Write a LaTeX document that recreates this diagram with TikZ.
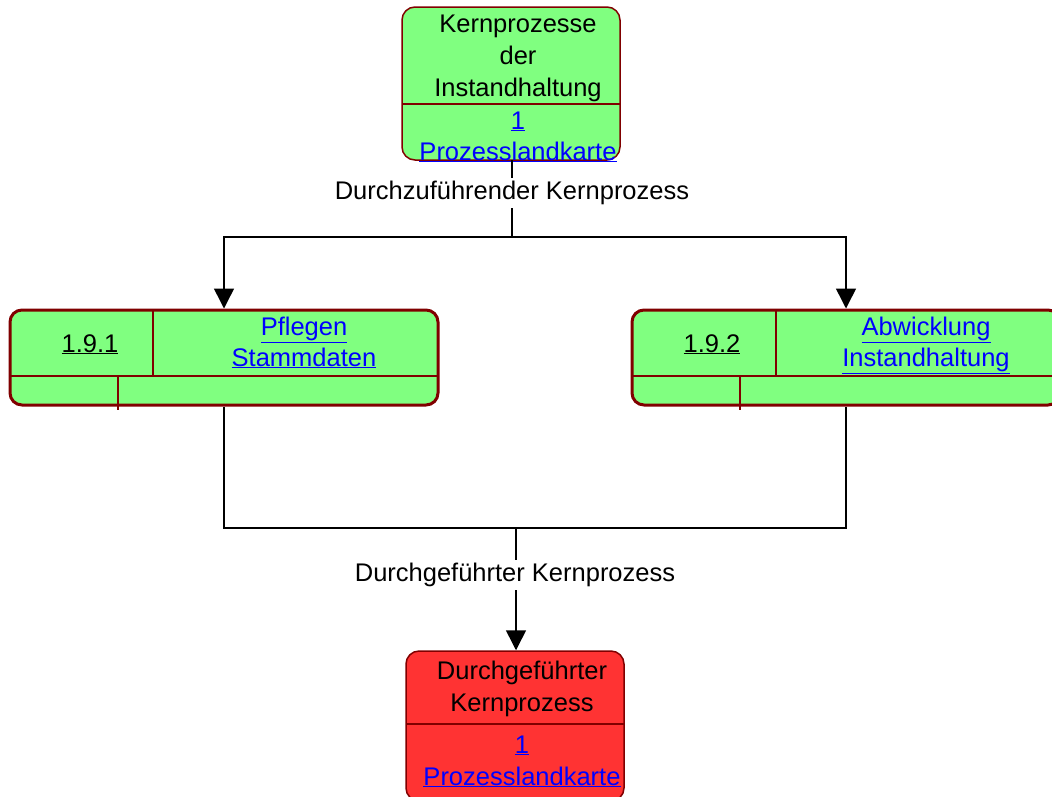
\documentclass[tikz,border=0pt]{standalone}
\usepackage{fontspec}
\setmainfont{Liberation Sans}
\usetikzlibrary{arrows.meta}
\definecolor{boxgreen}{HTML}{80FF80}
\definecolor{boxred}{HTML}{FF3333}
\definecolor{darkline}{HTML}{800000}
\definecolor{linkblue}{HTML}{0000FF}
\begin{document}
\begin{tikzpicture}[x=1pt,y=-1pt,
  every node/.style={font=\fontsize{25.5}{31}\selectfont},
  procbox/.style={draw=darkline, line width=1.5pt, rounded corners=13pt, inner sep=0pt},
  funcbox/.style={draw=darkline, line width=3pt, fill=boxgreen, rounded corners=12pt, inner sep=0pt, minimum width=428pt, minimum height=95pt},
  divline/.style={draw=darkline, line width=1.5pt},
  txt/.style={anchor=base, inner sep=0pt, text=black},
  lnk/.style={anchor=base, inner sep=0pt, text=linkblue},
  conn/.style={draw=black, line width=1.5pt},
  arr/.style={conn, -{Triangle[width=20pt,length=20pt]}},
  lbl/.style={fill=white, inner sep=3pt, text=black}]
\useasboundingbox (0,0) rectangle (1052,796);

% top process box
\node[procbox, fill=boxgreen, minimum width=218pt, minimum height=153pt] (top) at (511,83.5) {};
\draw[divline] (402,104) -- (620,104);
\node[txt] (t1) at (518,32) {Kernprozesse};
\node[txt] (t2) at (518,64) {der};
\node[txt] (t3) at (518,96) {Instandhaltung};
\node[lnk] (t4) at (518,129) {\underline{1}};
\node[lnk] (t5) at (518,160) {\underline{Prozesslandkarte}};

% left function box
\node[funcbox] (f1) at (224,357.5) {};
\draw[divline] (153,310) -- (153,376);
\draw[divline] (10,376) -- (438,376);
\draw[divline] (118,376) -- (118,410);
\node[txt] (f1n) at (90,352) {\underline{1.9.1}};
\node[lnk] (f1a) at (304,335) {\underline{Pflegen}};
\node[lnk] (f1b) at (304,366) {\underline{Stammdaten}};

% right function box
\node[funcbox] (f2) at (846,357.5) {};
\draw[divline] (776,310) -- (776,376);
\draw[divline] (632,376) -- (1052,376);
\draw[divline] (740,376) -- (740,410);
\node[txt] (f2n) at (712,352) {\underline{1.9.2}};
\node[lnk] (f2a) at (926,335) {\underline{Abwicklung}};
\node[lnk] (f2b) at (926,366) {\underline{Instandhaltung}};

% bottom event box
\node[procbox, fill=boxred, minimum width=218pt, minimum height=150pt] (bot) at (515,726) {};
\draw[divline] (406,724) -- (624,724);
\node[txt] (b1) at (522,679) {Durchgeführter};
\node[txt] (b2) at (522,711) {Kernprozess};
\node[lnk] (b3) at (522,753) {\underline{1}};
\node[lnk] (b4) at (522,785) {\underline{Prozesslandkarte}};

% connectors
\coordinate (j1) at (512,237);
\coordinate (j2) at (516,528);
\draw[conn] (512,160) -- (j1);
\draw[arr] (j1) -| (f1.north);
\draw[arr] (j1) -| (f2.north);
\node[lbl] (l1) at (512,193) {Durchzuführender Kernprozess};

\draw[conn] (f1.south) |- (j2);
\draw[conn] (j2) -| (f2.south);
\draw[arr] (j2) -- (j2 |- bot.north);
\node[lbl] (l2) at (515,575) {Durchgeführter Kernprozess};
\end{tikzpicture}
\end{document}
